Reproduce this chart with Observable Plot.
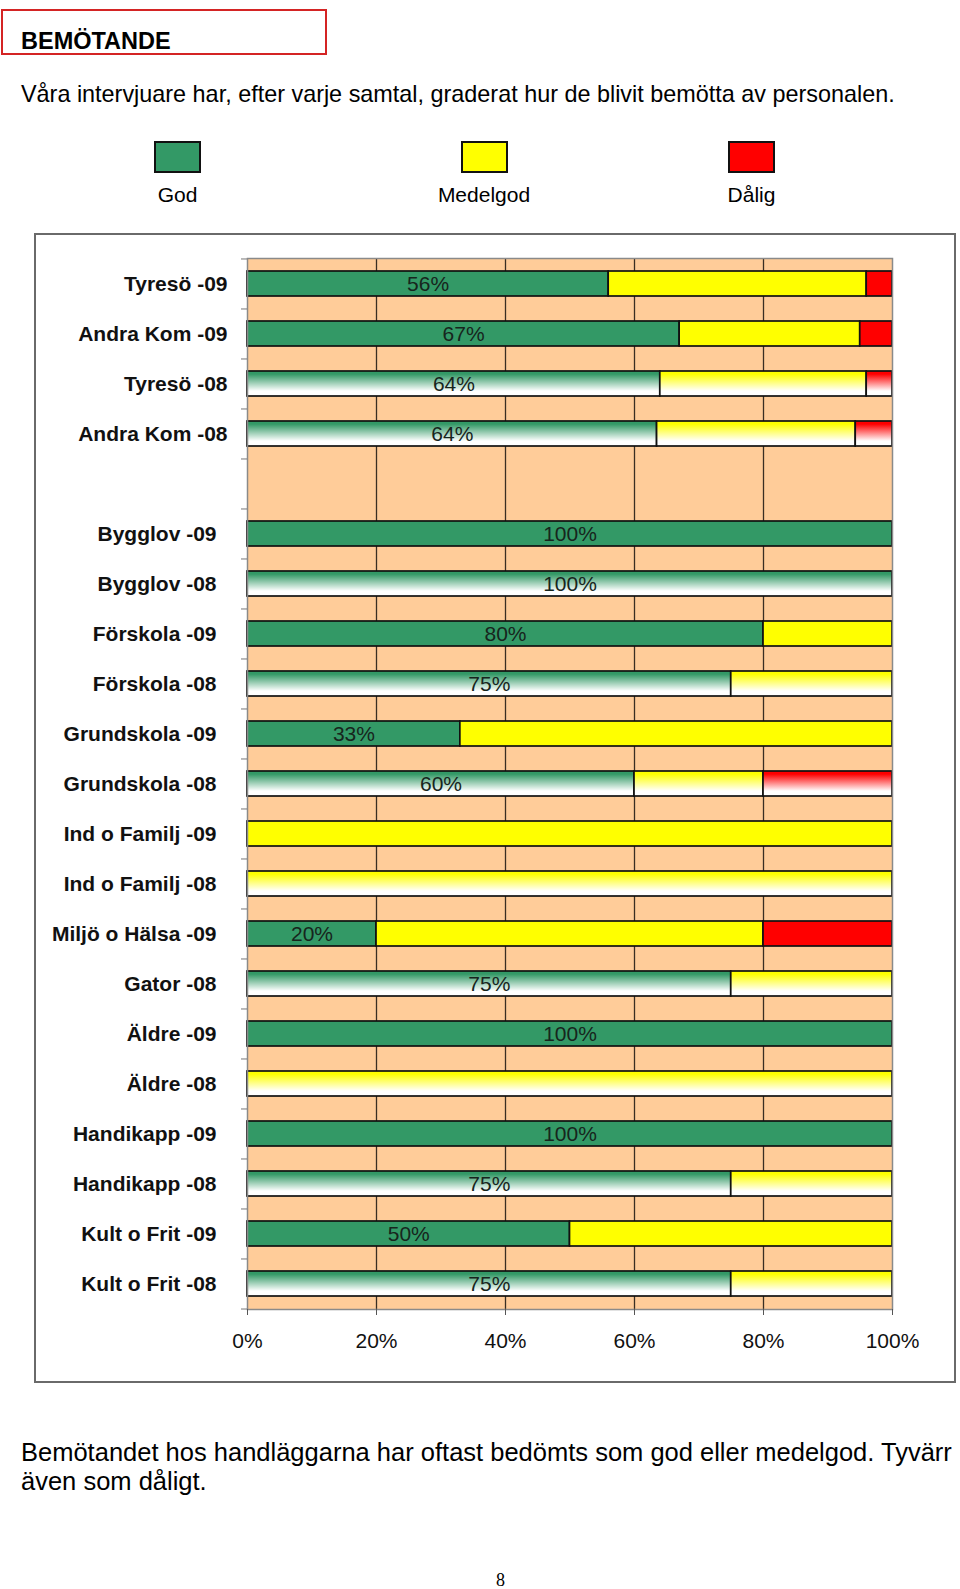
<!DOCTYPE html>
<html><head><meta charset="utf-8">
<script src="https://cdn.jsdelivr.net/npm/d3@7"></script>
<script src="https://cdn.jsdelivr.net/npm/@observablehq/plot@0.6"></script>
<style>
body{margin:0;background:#fff;font-family:"Liberation Sans",Arial,sans-serif;color:#000;}
#page{position:relative;width:960px;height:1589px;overflow:hidden;}
.abs{position:absolute;white-space:nowrap;}
#frame{position:absolute;left:34px;top:233px;border:2px solid #6a6a6a;background:#fff;}
#frame svg{display:block;}
.sw{position:absolute;width:43px;height:28px;border:2px solid #111;}
.lg{position:absolute;font-size:21px;line-height:21px;text-align:center;width:160px;}
</style></head><body>
<div id="page">
  <div class="abs" style="left:1px;top:9px;width:322px;height:42px;border:2px solid #d42424;"></div>
  <div class="abs" style="left:21px;top:30px;font-size:23.5px;line-height:23.5px;font-weight:bold;">BEMÖTANDE</div>
  <div class="abs" style="left:21px;top:83px;font-size:23.4px;line-height:23.4px;">Våra intervjuare har, efter varje samtal, graderat hur de blivit bemötta av personalen.</div>
  <div id="legend"></div>
  <div id="frame"></div>
  <div class="abs" style="left:21px;top:1438px;font-size:25.5px;line-height:29px;">Bemötandet hos handläggarna har oftast bedömts som god eller medelgod. Tyvärr<br>även som dåligt.</div>
  <div class="abs" style="left:496px;top:1571px;font-family:'Liberation Serif','Times New Roman',serif;font-size:18px;line-height:18px;">8</div>
</div>
<script>
// ---- data ----
const categories = ["Tyresö -09","Andra Kom -09","Tyresö -08","Andra Kom -08","",
  "Bygglov -09","Bygglov -08","Förskola -09","Förskola -08","Grundskola -09","Grundskola -08",
  "Ind o Familj -09","Ind o Familj -08","Miljö o Hälsa -09","Gator -08","Äldre -09","Äldre -08",
  "Handikapp -09","Handikapp -08","Kult o Frit -09","Kult o Frit -08"];
const god      = [56, 67, 64, 63.5, 0, 100, 100, 80, 75, 33, 60,   0,   0, 20, 75, 100,   0, 100, 75, 50, 75];
const medelgod = [40, 28, 32, 30.8, 0,   0,   0, 20, 25, 67, 20, 100, 100, 60, 25,   0, 100,   0, 25, 50, 25];
const dalig    = [ 4,  5,  4,  5.7, 0,   0,   0,  0,  0,  0, 20,   0,   0, 20,  0,   0,   0,   0,  0,  0,  0];
const ratings = ["God", "Medelgod", "Dålig"];
const ratingColors = ["#339966", "#ffff00", "#ff0000"];
const xTicks = [0, 20, 40, 60, 80, 100];

// ---- legend ----
const legendCenters = [177.5, 484, 751.5];
const legend = document.getElementById("legend");
ratings.forEach((r, i) => {
  const sw = document.createElement("div");
  sw.className = "sw";
  sw.style.left = (legendCenters[i] - 23.5) + "px";
  sw.style.top = "141px";
  sw.style.background = ratingColors[i];
  legend.appendChild(sw);
  const lb = document.createElement("div");
  lb.className = "lg";
  lb.style.left = (legendCenters[i] - 80) + "px";
  lb.style.top = "184px";
  lb.textContent = r;
  legend.appendChild(lb);
});

// ---- chart ----
const series = [god, medelgod, dalig];
const rows = categories.flatMap((c, i) => series.map((s, j) => ({
  category: c, rating: ratings[j], j, value: s[i], faded: c.endsWith("-08")
}))).filter(d => d.value > 0);
const labelRows = categories.map((c, i) => ({category: c, god: god[i]})).filter(d => d.god > 0);

const W = 918, H = 1146;
const mL = 211, mR = 62, mT = 23, mB = 72;
const step = (H - mT - mB) / categories.length;

const chart = Plot.plot({
  width: W, height: H,
  marginLeft: mL, marginRight: mR, marginTop: mT, marginBottom: mB,
  style: {fontFamily: '"Liberation Sans", Arial, sans-serif', background: "#fff", color: "#111", overflow: "visible"},
  x: {domain: [0, 100]},
  y: {domain: categories, paddingInner: 0.5, paddingOuter: 0.25},
  color: {type: "identity"},
  marks: [
    Plot.frame({fill: "#ffcc99"}),
    Plot.ruleX(xTicks.slice(1, -1), {stroke: "#3a2e22", strokeWidth: 1.3}),
    Plot.barX(rows, Plot.stackX({
      x: "value", y: "category", order: null,
      fill: d => d.faded ? `url(#fade-${d.j})` : ratingColors[d.j],
      stroke: "#111", strokeWidth: 1.7
    })),
    Plot.text(labelRows, {
      x: d => d.god / 2, y: "category", text: d => Math.round(d.god) + "%",
      fontSize: 21, fill: "#17251d"
    }),
    Plot.frame({stroke: "#8a8a8a", strokeWidth: 1.5}),
    Plot.axisY(categories.slice(0, 4), {tickSize: 0, tickPadding: 20, fontSize: 21, fontWeight: "bold", label: null}),
    Plot.axisY(categories.slice(5), {tickSize: 0, tickPadding: 31, fontSize: 21, fontWeight: "bold", label: null}),
    Plot.axisY(categories, {tickSize: 6, tickFormat: () => "", dy: -step / 2, stroke: "#777", label: null}),
    Plot.axisY(categories.slice(-1), {tickSize: 6, tickFormat: () => "", dy: step / 2, stroke: "#777", label: null}),
    Plot.axisX(xTicks, {tickFormat: d => d + "%", tickSize: 6, tickPadding: 18, fontSize: 21, label: null, stroke: "#555"})
  ]
});

// gradient definitions for the faded (-08) bars
const defs = d3.select(chart).insert("defs", ":first-child");
ratingColors.forEach((c, j) => {
  const g = defs.append("linearGradient").attr("id", `fade-${j}`)
    .attr("x1", 0).attr("y1", 0).attr("x2", 0).attr("y2", 1);
  g.append("stop").attr("offset", "0").attr("stop-color", c);
  g.append("stop").attr("offset", "0.12").attr("stop-color", c);
  g.append("stop").attr("offset", "0.8").attr("stop-color", "#ffffff");
  g.append("stop").attr("offset", "1").attr("stop-color", "#ffffff");
});
d3.select(chart).selectAll('[aria-label="y-axis tick label"] text').style("font-weight", "bold");
document.getElementById("frame").appendChild(chart);
</script>
</body></html>
